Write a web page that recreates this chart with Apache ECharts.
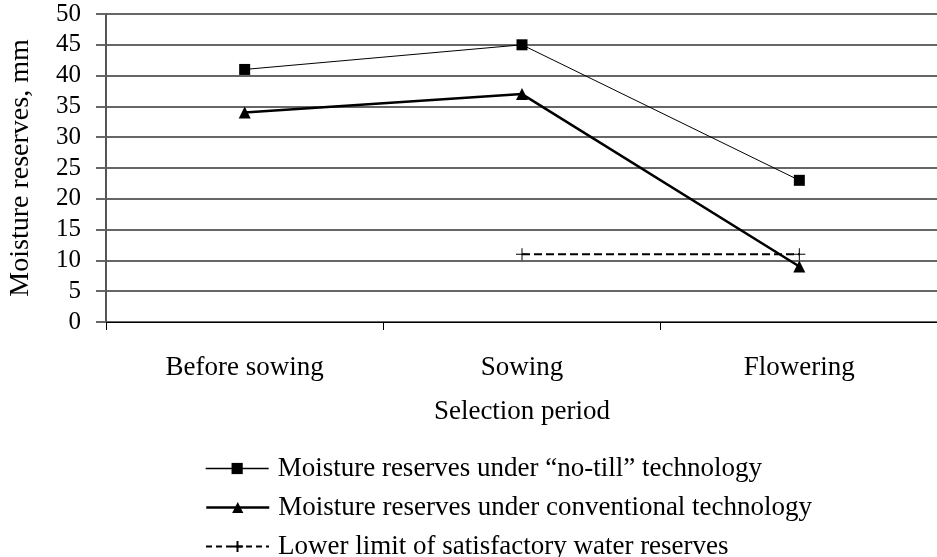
<!DOCTYPE html>
<html><head><meta charset="utf-8">
<script src="https://cdn.jsdelivr.net/npm/echarts@6/dist/echarts.min.js"></script>
<style>html,body{margin:0;padding:0;background:#fff}#c{width:937px;height:557px}</style>
</head><body><div id="c"></div>
<script>
const categories = ['Before sowing', 'Sowing', 'Flowering'];
const noTill = [41, 45, 23];
const conventional = [34, 37, 9];
const lowerLimit = [null, 11, 11];
const seriesNames = [
  'Moisture reserves under \u201cno-till\u201d technology',
  'Moisture reserves under conventional technology',
  'Lower limit of satisfactory water reserves'
];
const yTicks = { min: 0, max: 50, interval: 5 };

const FONT = '"Liberation Serif", "DejaVu Serif", serif';
const legendTops = [455, 494, 533];
const legendLines = [
  { color: '#000', width: 1.3, type: 'solid' },
  { color: '#000', width: 2.5, type: 'solid' },
  { color: '#000', width: 2, type: [6, 4] }
];
const chart = echarts.init(document.getElementById('c'), null, { renderer: 'canvas' });
chart.setOption({
  animation: false,
  backgroundColor: '#fff',
  grid: { left: 106, right: -1, top: 14, bottom: 235, containLabel: false, outerBoundsMode: 'none' },
  xAxis: {
    type: 'category', data: categories, boundaryGap: true,
    name: 'Selection period', nameLocation: 'middle', nameGap: 76,
    nameTextStyle: { fontFamily: FONT, fontSize: 27, color: '#000' },
    axisLine: { lineStyle: { color: '#000', width: 1 } },
    axisTick: { show: true, length: 8, lineStyle: { color: '#000' } },
    axisLabel: { fontFamily: FONT, fontSize: 27, color: '#000', margin: 32 },
    splitLine: { show: false }
  },
  yAxis: {
    type: 'value', min: yTicks.min, max: yTicks.max, interval: yTicks.interval,
    name: 'Moisture reserves, mm', nameLocation: 'middle', nameGap: 71, nameRotate: 90,
    nameTextStyle: { fontFamily: FONT, fontSize: 28, color: '#000' },
    axisLine: { show: true, lineStyle: { color: '#555', width: 2 } },
    axisTick: { show: true, length: 10, lineStyle: { color: '#666', width: 2 } },
    axisLabel: { fontFamily: FONT, fontSize: 25, color: '#000', margin: 25 },
    splitLine: { show: true, lineStyle: { color: '#666', width: 2 } }
  },
  legend: seriesNames.map((n, i) => ({
    orient: 'horizontal', left: 205, top: legendTops[i], padding: 0,
    itemWidth: 63, itemHeight: 14,
    textStyle: { fontFamily: FONT, fontSize: 27, color: '#000', padding: [0, 0, 0, 4] },
    data: [{ name: n, lineStyle: legendLines[i] }]
  })),
  series: [
    {
      name: seriesNames[0], type: 'line', data: noTill,
      symbol: 'rect', symbolSize: 11,
      lineStyle: { color: '#000', width: 1 },
      itemStyle: { color: '#000' }
    },
    {
      name: seriesNames[1], type: 'line', data: conventional,
      symbol: 'triangle', symbolSize: 12,
      lineStyle: { color: '#000', width: 2.5 },
      itemStyle: { color: '#000' }
    },
    {
      name: seriesNames[2], type: 'line', data: lowerLimit,
      symbol: 'path://M0,5L10,5M5,0L5,10', symbolSize: 12,
      lineStyle: { color: '#000', width: 2, type: [8, 4] },
      itemStyle: { color: 'transparent', borderColor: '#000', borderWidth: 1 }
    }
  ]
});
</script></body></html>
